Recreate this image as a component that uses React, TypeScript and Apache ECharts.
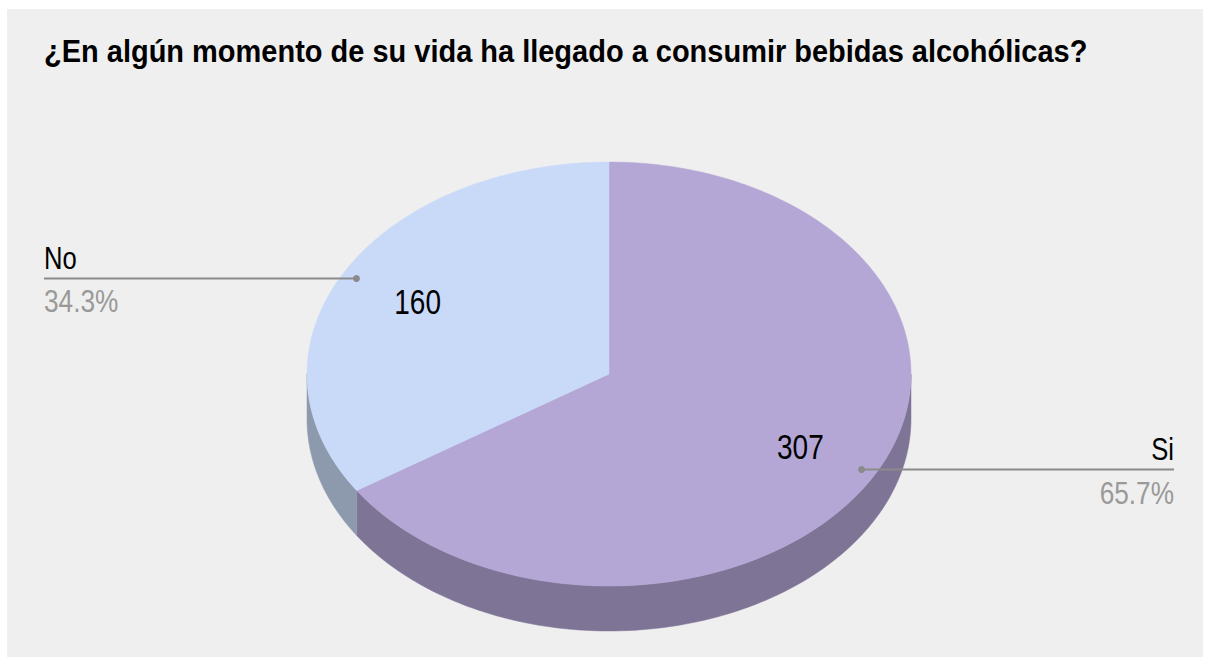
import React, { useEffect, useRef } from "react";
import * as echarts from "echarts";

const titleText = "¿En algún momento de su vida ha llegado a consumir bebidas alcohólicas?";
const names = ["Si", "No"];
const values = [307, 160];
const topColors = ["#b4a7d6", "#c9daf8"];
const sideColors = ["#7e7596", "#8d9aae"];

const CX = 609;
const CY = 374;
const RX = 302;
const RY = 212;
const DEPTH = 45;
const FONT = "'Liberation Sans', Arial, sans-serif";

const total = values.reduce((a, b) => a + b, 0);
const starts: number[] = [];
{
  let acc = 0;
  for (const v of values) {
    starts.push((acc / total) * Math.PI * 2);
    acc += v;
  }
}

function pt(theta: number, r: number, dy = 0): number[] {
  return [CX + RX * r * Math.sin(theta), CY - RY * r * Math.cos(theta) + dy];
}

function arc(a0: number, a1: number, dy = 0): number[][] {
  const n = Math.max(2, Math.ceil(((a1 - a0) / (Math.PI * 2)) * 360));
  const pts: number[][] = [];
  for (let i = 0; i <= n; i++) pts.push(pt(a0 + ((a1 - a0) * i) / n, 1, dy));
  return pts;
}

function sliceAngles(i: number) {
  const a0 = starts[i];
  const a1 = a0 + (values[i] / total) * Math.PI * 2;
  return [a0, a1];
}

export default function App() {
  const ref = useRef<HTMLDivElement>(null);
  useEffect(() => {
    document.body.style.margin = "0";
    const chart = echarts.init(ref.current!, null, { renderer: "svg" });
    const data = values.map((v, i) => ({ name: names[i], value: v }));
    chart.setOption({
      animation: false,
      backgroundColor: "#ffffff",
      graphic: [
        {
          type: "rect",
          shape: { x: 7, y: 9, width: 1196, height: 648 },
          style: { fill: "#efefef" },
          z: -10,
          silent: true,
        },
        {
          type: "text",
          x: 44,
          y: 51,
          scaleX: 0.935,
          style: {
            text: titleText,
            font: `bold 31px ${FONT}`,
            fill: "#000000",
            verticalAlign: "middle",
            align: "left",
          },
        },
      ],
      series: [
        {
          type: "custom",
          coordinateSystem: "none",
          z: 1,
          data,
          renderItem: (params: any) => {
            const i = params.dataIndex;
            const [a0, a1] = sliceAngles(i);
            const lo = Math.max(a0, Math.PI / 2);
            const hi = Math.min(a1, (Math.PI * 3) / 2);
            if (hi <= lo) return { type: "group", children: [] };
            const top = arc(lo, hi);
            const bot = arc(lo, hi, DEPTH).reverse();
            return {
              type: "polygon",
              shape: { points: top.concat(bot) },
              style: { fill: sideColors[i], stroke: sideColors[i], lineWidth: 0.5 },
            };
          },
        },
        {
          type: "custom",
          coordinateSystem: "none",
          z: 2,
          data,
          renderItem: (params: any) => {
            const i = params.dataIndex;
            const [a0, a1] = sliceAngles(i);
            return {
              type: "polygon",
              shape: { points: [[CX, CY]].concat(arc(a0, a1)) },
              style: { fill: topColors[i], stroke: topColors[i], lineWidth: 0.5 },
            };
          },
        },
        {
          type: "custom",
          coordinateSystem: "none",
          z: 3,
          data,
          renderItem: (params: any, api: any) => {
            const i = params.dataIndex;
            const v = api.value(0);
            const [a0, a1] = sliceAngles(i);
            const mid = (a0 + a1) / 2;
            const vp = pt(mid, 0.72);
            const dp = pt(mid, 0.95);
            const right = Math.sin(mid) > 0;
            const lx = right ? 1174 : 44;
            const pct = ((v / total) * 100).toFixed(1) + "%";
            return {
              type: "group",
              children: [
                {
                  type: "text",
                  x: vp[0],
                  y: vp[1],
                  scaleX: 0.8,
                  style: {
                    text: String(v),
                    font: `35px ${FONT}`,
                    fill: "#000000",
                    align: "center",
                    verticalAlign: "middle",
                  },
                },
                {
                  type: "line",
                  shape: { x1: dp[0], y1: dp[1], x2: lx, y2: dp[1] },
                  style: { stroke: "#8a8a8a", lineWidth: 2 },
                },
                {
                  type: "circle",
                  shape: { cx: dp[0], cy: dp[1], r: 3.5 },
                  style: { fill: "#8a8a8a" },
                },
                {
                  type: "text",
                  x: lx,
                  y: dp[1] - 20.5,
                  scaleX: 0.8,
                  style: {
                    text: names[i],
                    font: `32px ${FONT}`,
                    fill: "#000000",
                    align: right ? "right" : "left",
                    verticalAlign: "middle",
                  },
                },
                {
                  type: "text",
                  x: lx,
                  y: dp[1] + 23,
                  scaleX: 0.82,
                  style: {
                    text: pct,
                    font: `32px ${FONT}`,
                    fill: "#999999",
                    align: right ? "right" : "left",
                    verticalAlign: "middle",
                  },
                },
              ],
            };
          },
        },
      ],
    });
    return () => chart.dispose();
  }, []);
  return <div ref={ref} style={{ width: 1206, height: 657 }} />;
}
